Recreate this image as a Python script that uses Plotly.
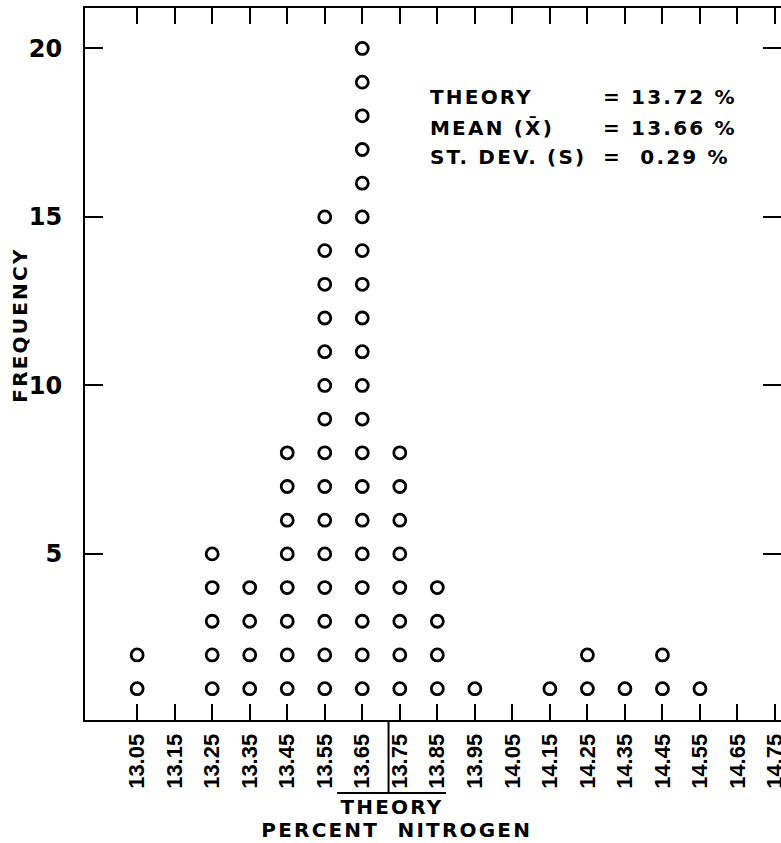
import plotly.graph_objects as go

# ---- data ----
percent_nitrogen = [13.05, 13.15, 13.25, 13.35, 13.45, 13.55, 13.65, 13.75, 13.85,
                    13.95, 14.05, 14.15, 14.25, 14.35, 14.45, 14.55, 14.65, 14.75]
tick_labels = ["13.05", "13.15", "13.25", "13.35", "13.45", "13.55", "13.65", "13.75", "13.85",
               "13.95", "14.05", "14.15", "14.25", "14.35", "14.45", "14.55", "14.65", "14.75"]
frequency = [2, 0, 5, 4, 8, 15, 20, 8, 4, 1, 0, 1, 2, 1, 2, 1, 0, 0]
y_ticks = [5, 10, 15, 20]
THEORY = 13.72
stat_labels = ["THEORY", "MEAN (X\u0304)", "ST. DEV. (S)"]
stat_values = ["= 13.72 %", "= 13.66 %", "=  0.29 %"]

# expand counts into stacked dots
xs, ys = [], []
for x, n in zip(percent_nitrogen, frequency):
    for k in range(1, n + 1):
        xs.append(x)
        ys.append(k)

BOLD = "DejaVu Sans"
fig = go.Figure()
fig.add_trace(go.Scatter(
    x=xs, y=ys, mode="markers",
    marker=dict(symbol="circle-open", size=12, color="black", line=dict(width=2.8, color="black")),
    showlegend=False, hoverinfo="skip",
))

axis_common = dict(showline=True, linewidth=2, linecolor="black", mirror="ticks",
                   ticks="inside", tickwidth=2, tickcolor="black",
                   showgrid=False, zeroline=False, automargin=False)

fig.update_layout(
    width=781, height=843,
    margin=dict(l=85, r=0, t=8, b=123),
    paper_bgcolor="white", plot_bgcolor="white",
    xaxis=dict(range=[12.911, 14.766], tickvals=percent_nitrogen, ticktext=tick_labels,
               tickangle=-90, ticklen=16, ticklabelstandoff=3, ticklabeloverflow="allow",
               tickfont=dict(family="Liberation Sans", size=22, color="black", weight="bold"),
               **axis_common),
    yaxis=dict(range=[0.07, 21.2], tickvals=y_ticks, ticklen=18, ticklabelstandoff=16,
               tickfont=dict(family=BOLD, size=24, color="black", weight="bold"),
               **axis_common),
)

# y-axis title
fig.add_annotation(x=-0.0934, y=0.555, xref="paper", yref="paper", text="FREQUENCY",
                   textangle=-90, showarrow=False, xanchor="center", yanchor="middle",
                   font=dict(family=BOLD, size=20, color="black", weight="bold"))

# stats box
rows_y = [18.56, 17.64, 16.78]
for lab, val, yy in zip(stat_labels, stat_values, rows_y):
    fig.add_annotation(x=13.825, y=yy, xref="x", yref="y", text=lab, showarrow=False,
                       xanchor="left", yanchor="middle", align="left",
                       font=dict(family=BOLD, size=20, color="black", weight="bold"))
    fig.add_annotation(x=14.285, y=yy, xref="x", yref="y", text=val, showarrow=False,
                       xanchor="left", yanchor="middle", align="left",
                       font=dict(family=BOLD, size=20, color="black", weight="bold"))

# theory marker below the axis
fig.add_shape(type="line", xref="x", yref="paper", x0=THEORY, x1=THEORY, y0=0, y1=-0.1025,
              line=dict(color="black", width=2))
fig.add_shape(type="line", xref="x", yref="paper", x0=THEORY - 0.137, x1=THEORY + 0.153,
              y0=-0.1025, y1=-0.1025, line=dict(color="black", width=2))
fig.add_annotation(x=THEORY + 0.01, y=-0.122, xref="x", yref="paper", text="THEORY",
                   showarrow=False, xanchor="center", yanchor="middle",
                   font=dict(family=BOLD, size=20, color="black", weight="bold"))
fig.add_annotation(x=THEORY + 0.02, y=-0.1545, xref="x", yref="paper", text="PERCENT  NITROGEN",
                   showarrow=False, xanchor="center", yanchor="middle",
                   font=dict(family=BOLD, size=20, color="black", weight="bold"))

css = ("document.body.style.margin='0';document.body.style.overflow='hidden';"
       "var s=document.createElement('style');"
       "s.textContent='.annotation-text{letter-spacing:2.2px}';"
       "document.head.appendChild(s);")
fig.write_html("out.html", post_script=css, config={"displayModeBar": False})
